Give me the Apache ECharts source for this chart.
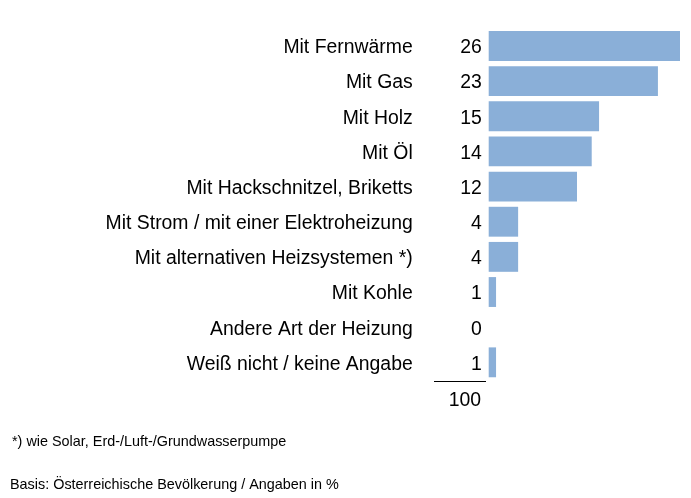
<!DOCTYPE html>
<html>
<head>
<meta charset="utf-8">
<script src="https://cdn.jsdelivr.net/npm/echarts@6/dist/echarts.min.js"></script>
<style>
html,body{margin:0;padding:0;background:#fff;}
#chart{width:691px;height:498px;}
</style>
</head>
<body>
<div id="chart"></div>
<script>
const categories = [
  "Mit Fernwärme",
  "Mit Gas",
  "Mit Holz",
  "Mit Öl",
  "Mit Hackschnitzel, Briketts",
  "Mit Strom / mit einer Elektroheizung",
  "Mit alternativen Heizsystemen *)",
  "Mit Kohle",
  "Andere Art der Heizung",
  "Weiß nicht / keine Angabe"
];
const values = [26, 23, 15, 14, 12, 4, 4, 1, 0, 1];
const totalLabel = "100";
const footnote = "*) wie Solar, Erd-/Luft-/Grundwasserpumpe";
const basis = "Basis: Österreichische Bevölkerung / Angaben in %";

const chart = echarts.init(document.getElementById('chart'));
const font = "'Liberation Sans', Arial, sans-serif";
chart.setOption({
  animation: false,
  backgroundColor: '#ffffff',
  grid: { left: 488.7, right: 11, top: 28.4, height: 351.5 },
  xAxis: { type: 'value', min: 0, max: 26, show: false },
  yAxis: {
    type: 'category', inverse: true, data: categories,
    axisLine: { show: false }, axisTick: { show: false }, splitLine: { show: false },
    axisLabel: { show: false }
  },
  series: [{
    type: 'bar', data: values, barCategoryGap: '15%', barGap: '-100%',
    itemStyle: { color: '#8aafd8', borderWidth: 0 },
    label: { show: true, position: 'left', distance: 7, offset: [0, 2], fontFamily: font, fontSize: 19.4, color: '#000' }
  }, {
    type: 'bar', data: values, barCategoryGap: '15%', barGap: '-100%', silent: true,
    itemStyle: { color: 'rgba(0,0,0,0)', borderWidth: 0 },
    label: { show: true, formatter: '{b}', position: 'left', distance: 76, offset: [0, 2], fontFamily: font, fontSize: 19.4, color: '#000' }
  }],
  graphic: [
    { type: 'line', shape: { x1: 434, y1: 381.5, x2: 486, y2: 381.5 }, style: { stroke: '#000', lineWidth: 1 } },
    { type: 'text', x: 481, y: 401, style: { text: totalLabel, font: "19.4px " + font, fill: '#000', align: 'right', verticalAlign: 'middle' } },
    { type: 'text', x: 12, y: 442, style: { text: footnote, font: "14.4px " + font, fill: '#000', align: 'left', verticalAlign: 'middle' } },
    { type: 'text', x: 10, y: 485, style: { text: basis, font: "14.4px " + font, fill: '#000', align: 'left', verticalAlign: 'middle' } }
  ]
});
</script>
</body>
</html>
